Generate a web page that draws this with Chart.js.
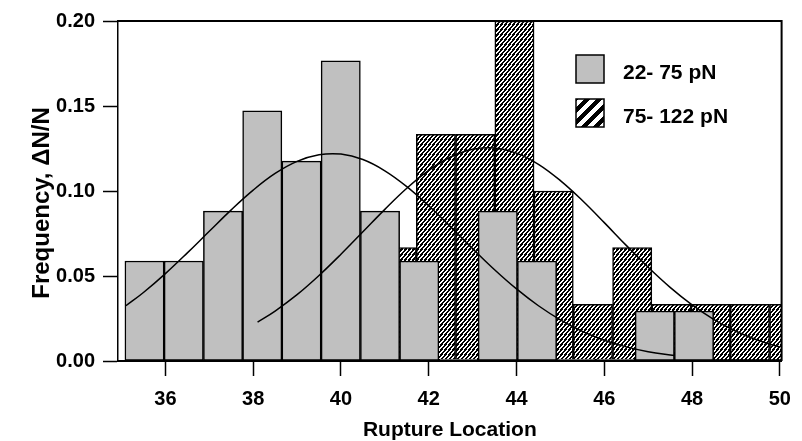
<!DOCTYPE html>
<html>
<head>
<meta charset="utf-8">
<script src="https://cdn.jsdelivr.net/npm/chart.js@4.4.0/dist/chart.umd.min.js"></script>
<style>
    html, body { margin: 0; padding: 0; background: #fff; }
</style>
</head>
<body>
<canvas id="ruptureChart" width="802" height="441"></canvas>
<script>

// HISTOGRAM BINS (bin centres on Rupture Location)
const lowForceCenters = [35.524, 36.418, 37.313, 38.207, 39.101, 39.995, 40.890, 41.784,
    42.678, 43.573, 44.467, 45.361, 46.256, 47.150, 48.044];
const lowForceFreq = [0.0588, 0.0588, 0.0882, 0.1471, 0.1176, 0.1765, 0.0882, 0.0588,
    0, 0.0882, 0.0588, 0, 0, 0.0294, 0.0294];

const highForceCenters = [40.375, 41.270, 42.164, 43.059, 43.953, 44.847, 45.742, 46.636,
    47.530, 48.425, 49.319, 50.213];
const highForceFreq = [0, 0.0667, 0.1333, 0.1333, 0.2000, 0.1000, 0.0333, 0.0667,
    0.0333, 0.0333, 0.0333, 0.0333];

// FITTED CURVES
const lowFitX = [35.1, 35.5, 36.0, 36.5, 37.0, 37.5, 38.0, 38.5, 39.0, 39.5, 40.0, 40.5, 41.0,
    41.5, 42.0, 42.5, 43.0, 43.5, 44.0, 44.5, 45.0, 45.5, 46.0, 46.5, 47.0, 47.6];
const lowFitY = [0.0325, 0.0403, 0.0514, 0.0636, 0.0763, 0.0889, 0.1005, 0.1103, 0.1174,
    0.1213, 0.1217, 0.1185, 0.1119, 0.1026, 0.0913, 0.0789, 0.0661, 0.0537, 0.0424, 0.0325,
    0.0242, 0.0174, 0.0122, 0.0083, 0.0055, 0.0032];

const highFitX = [38.1, 38.5, 39.0, 39.5, 40.0, 40.5, 41.0, 41.5, 42.0, 42.5, 43.0, 43.5, 44.0,
    44.5, 45.0, 45.5, 46.0, 46.5, 47.0, 47.5, 48.0, 48.5, 49.0, 49.5, 50.0];
const highFitY = [0.0229, 0.0294, 0.0390, 0.0503, 0.0628, 0.0760, 0.0892, 0.1016, 0.1121,
    0.1200, 0.1246, 0.1253, 0.1223, 0.1157, 0.1061, 0.0944, 0.0814, 0.0680, 0.0551, 0.0433,
    0.0330, 0.0244, 0.0175, 0.0122, 0.0082];

// AXES
const xTickValues = [36, 38, 40, 42, 44, 46, 48, 50];
const yTickValues = [0, 0.05, 0.10, 0.15, 0.20];
const seriesLabels = ["22- 75 pN", "75- 122 pN"];
const xTitle = "Rupture Location";
const yTitle = "Frequency, \u0394N/N";

const FONT = "'Liberation Sans', Arial, sans-serif";
const X_MIN = 34.92;
const X_MAX = 50.04;

// diagonal "/" hatch tile
function makeHatch(w, h, fill) {
    const c = document.createElement("canvas");
    c.width = w;
    c.height = h;
    const g = c.getContext("2d");
    const img = g.createImageData(w, h);
    for (let j = 0; j < h; j++) {
        for (let i = 0; i < w; i++) {
            const phase = ((i + 0.5) * h + (j + 0.5) * w) % (w * h);
            const v = phase < fill * w * h ? 0 : 255;
            const k = (j * w + i) * 4;
            img.data[k] = v;
            img.data[k + 1] = v;
            img.data[k + 2] = v;
            img.data[k + 3] = 255;
        }
    }
    g.putImageData(img, 0, 0);
    return c;
}

const canvas = document.getElementById("ruptureChart");
const ctx = canvas.getContext("2d");
const barHatch = ctx.createPattern(makeHatch(4, 5, 0.55), "repeat");
const keyHatch = ctx.createPattern(makeHatch(12, 12, 0.5), "repeat");

function points(xs, ys) {
    return xs.map((x, i) => ({ x: x, y: ys[i] }));
}

// frame on top/right, legend key, y title
const frameAndKey = {
    id: "frameAndKey",
    afterDraw(chart) {
        const c = chart.ctx;
        const a = chart.chartArea;
        c.save();
        c.strokeStyle = "#000";
        c.lineWidth = 2;
        c.beginPath();
        c.moveTo(a.left, a.top);
        c.lineTo(a.right, a.top);
        c.lineTo(a.right, a.bottom);
        c.stroke();

        c.lineWidth = 1.5;
        c.fillStyle = "#c0c0c0";
        c.fillRect(576, 55, 28, 28);
        c.strokeRect(576, 55, 28, 28);
        c.fillStyle = keyHatch;
        c.fillRect(576, 99, 28, 28);
        c.strokeRect(576, 99, 28, 28);

        c.fillStyle = "#000";
        c.font = "bold 21px " + FONT;
        c.textBaseline = "middle";
        c.fillText(seriesLabels[0], 623, 73);
        c.fillText(seriesLabels[1], 623, 117);

        // y axis title, rotated
        c.translate(42, 203);
        c.rotate(-Math.PI / 2);
        c.textAlign = "center";
        c.font = "bold 24px " + FONT;
        c.fillText(yTitle, 0, 0);
        c.restore();
    }
};

const barCommon = {
    type: "bar",
    borderColor: "#000",
    borderWidth: 1.5,
    borderSkipped: false,
    barPercentage: 1,
    categoryPercentage: 1,
    grouped: false,
    minBarLength: 2
};

new Chart(ctx, {
    type: "bar",
    data: {
        datasets: [
            {
                type: "line",
                data: points(lowFitX, lowFitY),
                borderColor: "#000",
                borderWidth: 1.5,
                pointRadius: 0,
                tension: 0.4,
                xAxisID: "x",
                order: 0
            },
            {
                type: "line",
                data: points(highFitX, highFitY),
                borderColor: "#000",
                borderWidth: 1.5,
                pointRadius: 0,
                tension: 0.4,
                xAxisID: "x",
                order: 0
            },
            Object.assign({}, barCommon, {
                label: seriesLabels[0],
                data: points(lowForceCenters, lowForceFreq),
                backgroundColor: "#c0c0c0",
                xAxisID: "x",
                order: 1
            }),
            Object.assign({}, barCommon, {
                label: seriesLabels[1],
                data: points(highForceCenters, highForceFreq),
                backgroundColor: barHatch,
                xAxisID: "x2",
                order: 2
            })
        ]
    },
    options: {
        responsive: false,
        animation: false,
        layout: {
            padding: { top: 21, right: 12, left: 0, bottom: 0 }
        },
        plugins: {
            legend: { display: false },
            tooltip: { enabled: false }
        },
        scales: {
            x: {
                type: "linear",
                min: X_MIN,
                max: X_MAX,
                offset: false,
                afterBuildTicks: s => { s.ticks = xTickValues.map(v => ({ value: v })); },
                afterFit: s => { s.height = 80; },
                grid: {
                    offset: false,
                    drawOnChartArea: false,
                    tickLength: 15,
                    tickColor: "#000",
                    tickWidth: 1.5
                },
                border: { display: true, color: "#000", width: 2, z: 1 },
                ticks: {
                    color: "#000",
                    padding: 11,
                    maxRotation: 0,
                    autoSkip: false,
                    font: { family: FONT, size: 20, weight: "bold" },
                    callback: v => String(v)
                },
                title: {
                    display: true,
                    text: xTitle,
                    color: "#000",
                    padding: { top: 0, bottom: 0 },
                    font: { family: FONT, size: 21, weight: "bold", lineHeight: 1 }
                }
            },
            x2: {
                type: "linear",
                min: X_MIN,
                max: X_MAX,
                offset: false,
                display: false,
                afterBuildTicks: s => { s.ticks = xTickValues.map(v => ({ value: v })); }
            },
            y: {
                type: "linear",
                min: 0,
                max: 0.2,
                afterBuildTicks: s => { s.ticks = yTickValues.map(v => ({ value: v })); },
                afterFit: s => { s.width = 118; },
                grid: {
                    drawOnChartArea: false,
                    tickLength: 15,
                    tickColor: "#000",
                    tickWidth: 1.5
                },
                border: { display: true, color: "#000", width: 1.5, z: 1 },
                ticks: {
                    color: "#000",
                    padding: 8,
                    font: { family: FONT, size: 20, weight: "bold" },
                    callback: v => v.toFixed(2)
                }
            }
        }
    },
    plugins: [frameAndKey]
});
</script>
</body>
</html>
